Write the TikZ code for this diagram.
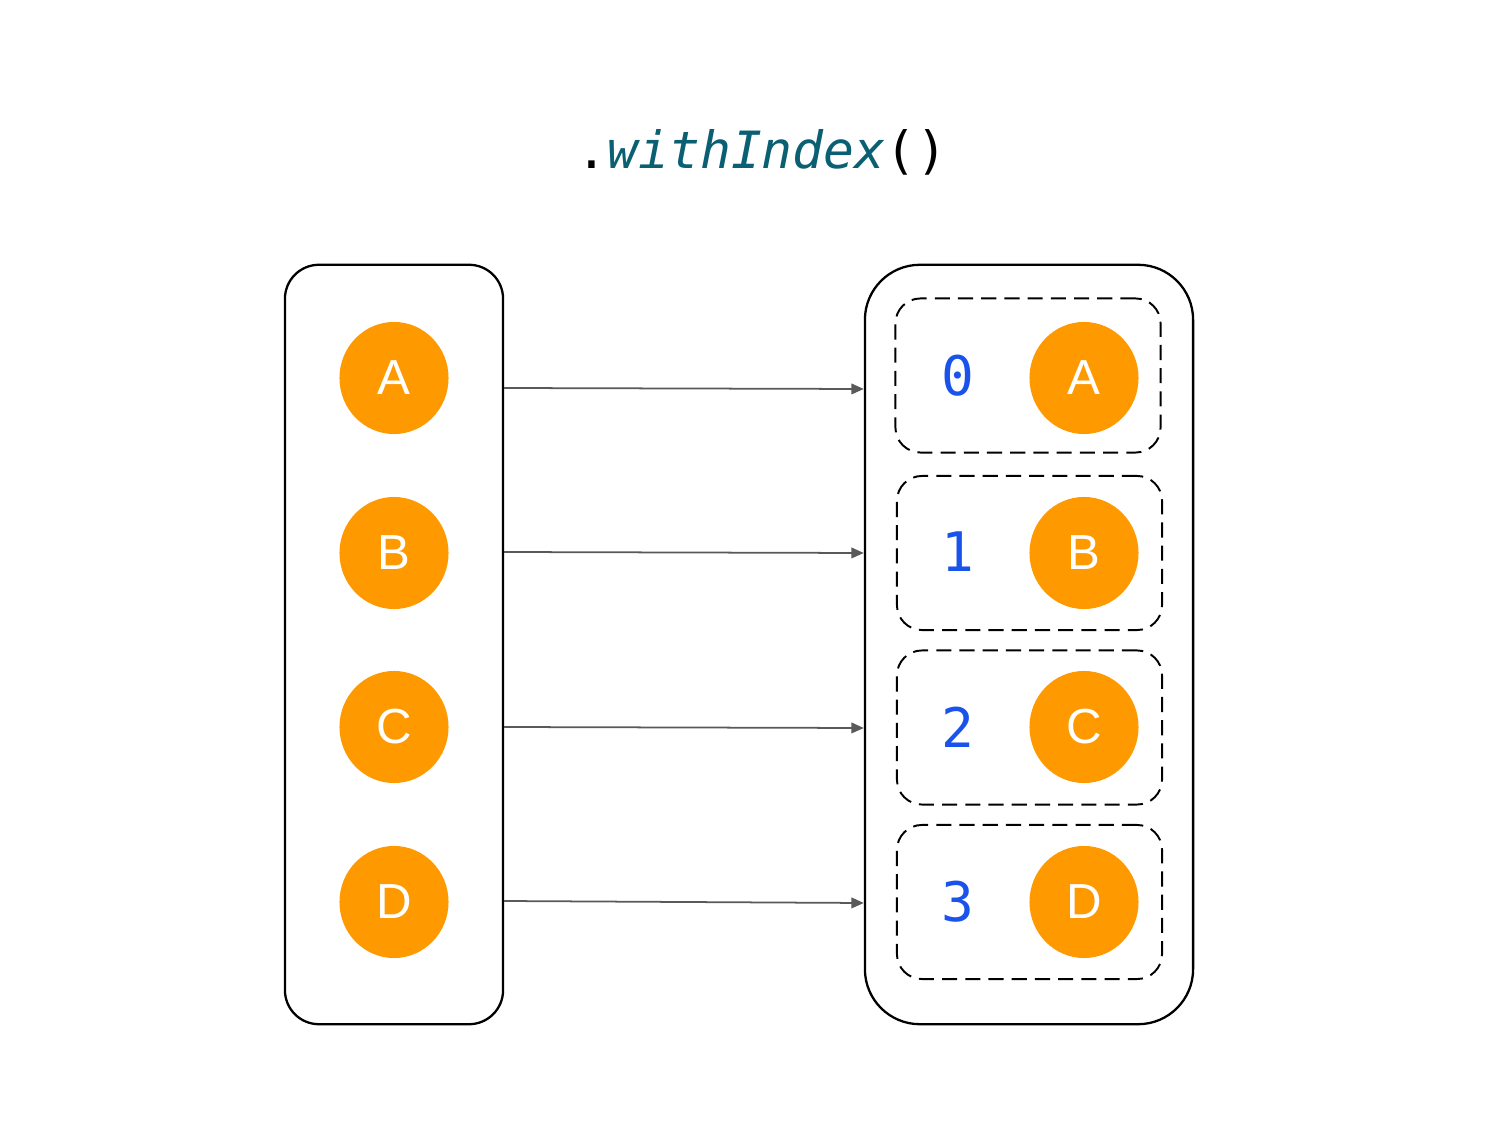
\documentclass[tikz,border=0pt]{standalone}
\usepackage{fontspec}
\setmainfont{Liberation Sans}
\newfontfamily\codefont{DejaVu Sans Mono}
\usetikzlibrary{arrows.meta,shapes.geometric}
\definecolor{itemorange}{RGB}{255,153,0}
\definecolor{indexblue}{RGB}{26,83,236}
\definecolor{methodteal}{RGB}{10,95,115}
\begin{document}
\begin{tikzpicture}[x=0.01cm, y=-0.01cm,
    item/.style={ellipse, fill=itemorange, minimum width=1.09cm, minimum height=1.12cm,
        inner sep=0pt, text=white, font=\fontsize{14}{16}\selectfont},
    idx/.style={text=indexblue, font=\codefont\fontsize{15.5}{18}\selectfont},
    pair/.style={draw, dash pattern=on 4.3pt off 2.3pt, line width=0.55pt,
        rounded corners=0.25cm, minimum width=2.65cm, minimum height=1.54cm},
    flow/.style={draw=black!65, line width=0.5pt, -{Triangle[length=3.5pt, width=3pt]}}]

    \useasboundingbox (0,0) rectangle (1500,1125);

    % title
    \node (title) at (762,152) {\codefont\fontsize{14.6}{18}\selectfont
        .\textcolor{methodteal}{\itshape withIndex}()};

    % the two collections
    \node[draw, line width=0.65pt, rounded corners=0.34cm, minimum width=2.18cm,
        minimum height=7.59cm] (src) at (394,644.5) {};
    \node[draw, line width=0.65pt, rounded corners=0.55cm, minimum width=3.28cm,
        minimum height=7.59cm] (dst) at (1029,644.5) {};

    % source items
    \node[item] (a) at (394,378) {A};
    \node[item] (b) at (394,553) {B};
    \node[item] (c) at (394,727) {C};
    \node[item] (d) at (394,902) {D};

    % indexed pairs
    \node[pair] (pa) at (1028,375.5) {};
    \node[pair] (pb) at (1029.5,553) {};
    \node[pair] (pc) at (1029.5,727.5) {};
    \node[pair] (pd) at (1029.5,902) {};

    \node[idx] (i0) at (958,376) {0};
    \node[idx] (i1) at (958,552) {1};
    \node[idx] (i2) at (958,727) {2};
    \node[idx] (i3) at (958,902) {3};

    \node[item] (ra) at (1084,378) {A};
    \node[item] (rb) at (1084,553) {B};
    \node[item] (rc) at (1084,727) {C};
    \node[item] (rd) at (1084,902) {D};

    % mapping
    \draw[flow] (src.east |- 0,388) -- (dst.west |- 0,389);
    \draw[flow] (src.east |- 0,552) -- (dst.west |- 0,553);
    \draw[flow] (src.east |- 0,727) -- (dst.west |- 0,728);
    \draw[flow] (src.east |- 0,901) -- (dst.west |- 0,903);
\end{tikzpicture}
\end{document}
